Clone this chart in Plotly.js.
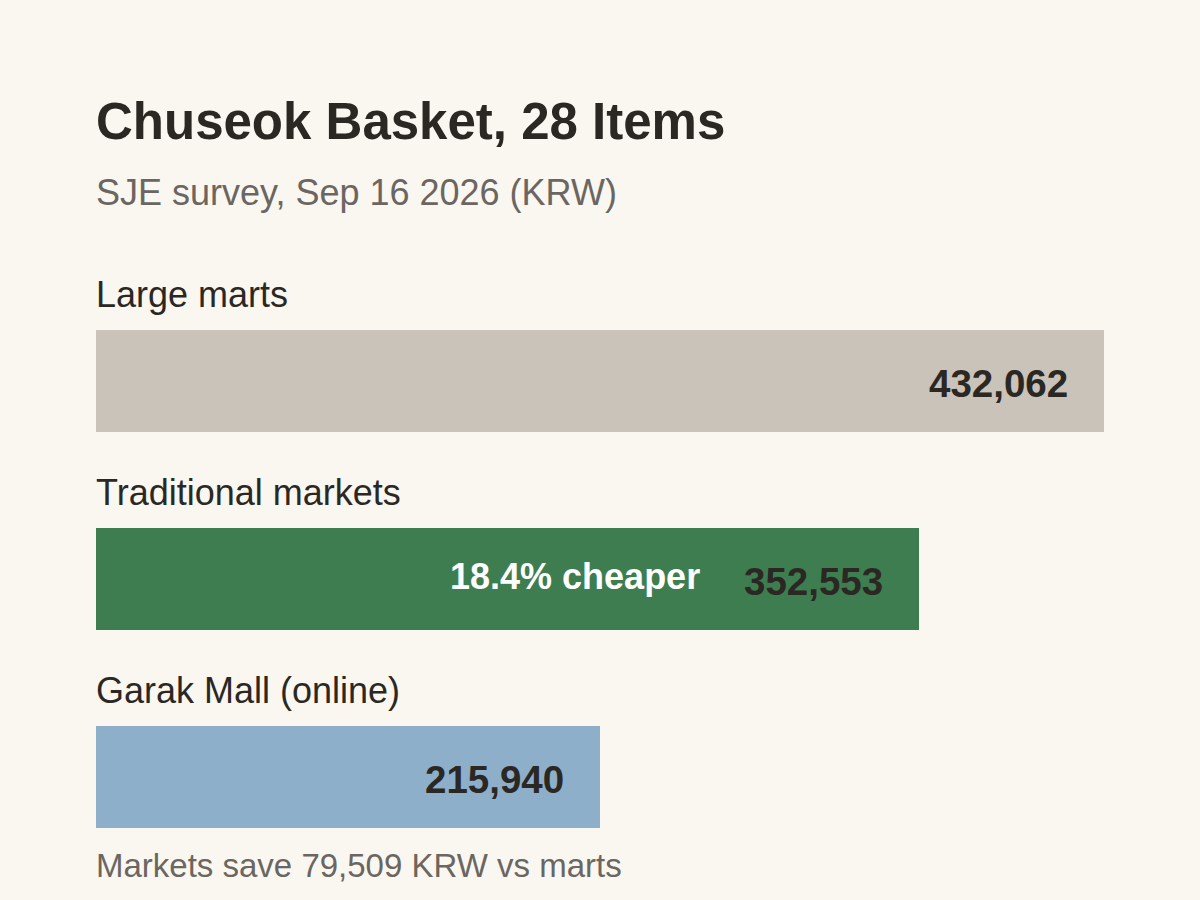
<!DOCTYPE html>
<html>
<head>
<meta charset="utf-8">
<script src="https://cdn.plot.ly/plotly-3.0.1.min.js"></script>
<style>
  html, body { margin: 0; padding: 0; background: #faf7f1; }
  #chart { width: 1200px; height: 900px; }
</style>
</head>
<body>
<div id="chart"></div>
<script>
// ---- data ----
const categories = ["Large marts", "Traditional markets", "Garak Mall (online)"];
const values = [432062, 352553, 215940];
const valueLabels = ["432,062", "352,553", "215,940"];
const barColors = ["#c9c3b9", "#3e7d50", "#8dafca"];
const title = "Chuseok Basket, 28 Items";
const subtitle = "SJE survey, Sep 16 2026 (KRW)";
const callout = "18.4% cheaper";
const calloutIndex = 1;
const footer = "Markets save 79,509 KRW vs marts";

// ---- layout helpers ----
const W = 1200, H = 900;
const font = "Liberation Sans, Arial, sans-serif";
const dark = "#2b2824";
const gray = "#6b6661";
const py = (px) => 1 - px / H; // paper y from pixel

const idx = categories.map((_, i) => i);

const trace = {
  type: "bar",
  orientation: "h",
  x: values,
  y: idx,
  width: 0.515,
  marker: { color: barColors, line: { width: 0 } },
  hoverinfo: "skip",
  showlegend: false
};

const annotations = [];
annotations.push({
  xref: "paper", yref: "paper", x: 0, xshift: -2, y: py(122), xanchor: "left", yanchor: "middle",
  text: "<b>" + title + "</b>", showarrow: false,
  font: { family: font, size: 51, color: dark }
});
annotations.push({
  xref: "paper", yref: "paper", x: 0, xshift: -2, y: py(192), xanchor: "left", yanchor: "middle",
  text: subtitle, showarrow: false,
  font: { family: font, size: 36, color: gray }
});
categories.forEach((c, i) => {
  annotations.push({
    xref: "paper", yref: "y", x: 0, xshift: -2, y: i, yshift: 87, xanchor: "left", yanchor: "middle",
    text: c, showarrow: false,
    font: { family: font, size: 36, color: dark }
  });
  annotations.push({
    xref: "x", yref: "y", x: values[i], y: i, xshift: -34, yshift: -2, xanchor: "right", yanchor: "middle",
    text: "<b>" + valueLabels[i] + "</b>", showarrow: false,
    font: { family: font, size: 38.5, color: dark }
  });
});
annotations.push({
  xref: "x", yref: "y", x: values[calloutIndex], y: calloutIndex, xshift: -217, yshift: 3,
  xanchor: "right", yanchor: "middle",
  text: "<b>" + callout + "</b>", showarrow: false,
  font: { family: font, size: 36, color: "#ffffff" }
});
annotations.push({
  xref: "paper", yref: "paper", x: 0, xshift: -2, y: py(865), xanchor: "left", yanchor: "middle",
  text: footer, showarrow: false,
  font: { family: font, size: 33, color: gray }
});

const layout = {
  width: W, height: H,
  margin: { l: 96, r: 96, t: 0, b: 0, pad: 0 },
  paper_bgcolor: "#faf7f1",
  plot_bgcolor: "#faf7f1",
  font: { family: font, color: dark },
  xaxis: { range: [0, values[0]], visible: false, showgrid: false, zeroline: false, fixedrange: true },
  yaxis: { range: [2 + 123 / 198, -381 / 198], visible: false, showgrid: false, zeroline: false, fixedrange: true },
  bargap: 0,
  annotations: annotations,
  showlegend: false
};

Plotly.newPlot("chart", [trace], layout, { displayModeBar: false, staticPlot: true });
</script>
</body>
</html>
